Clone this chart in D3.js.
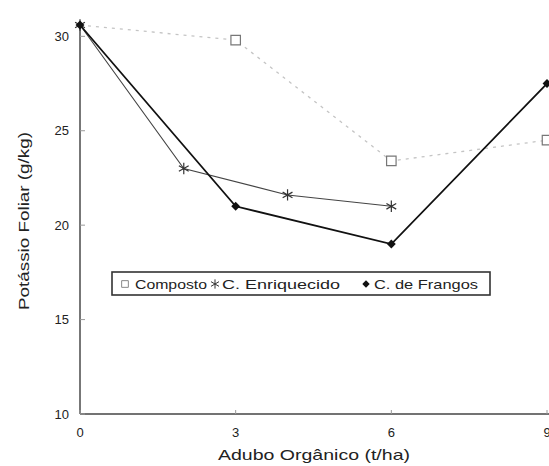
<html>
<script src="https://d3js.org/d3.v7.min.js"></script>
<style>
  body { margin: 0; background: #fff; }
  text { font-family: "Liberation Sans", Arial, sans-serif; fill: #222; }
</style>
<body>
<svg width="549" height="466" id="chart"></svg>
<script>
// data
var xTicks = [0, 3, 6, 9];
var yTicks = [10, 15, 20, 25, 30];
var compostoX = [0, 3, 6, 9];
var compostoY = [30.6, 29.8, 23.4, 24.5];
var enriquecidoX = [0, 2, 4, 6];
var enriquecidoY = [30.6, 23.0, 21.6, 21.0];
var frangosX = [0, 3, 6, 9];
var frangosY = [30.6, 21.0, 19.0, 27.5];
var seriesNames = ["Composto", "C. Enriquecido", "C. de Frangos"];

var svg = d3.select("#chart");
var x = d3.scaleLinear().domain([0, 9]).range([80, 547]);
var y = d3.scaleLinear().domain([10, 30.6]).range([414, 25]);

// axes
svg.append("line").attr("x1", x(0)).attr("x2", 549)
   .attr("y1", y(10)).attr("y2", y(10)).attr("stroke", "#444").attr("stroke-width", 1.6);
svg.append("line").attr("x1", x(0)).attr("x2", x(0))
   .attr("y1", y(10)).attr("y2", y(30.6)).attr("stroke", "#555").attr("stroke-width", 1.6);

svg.selectAll(".ytick").data(yTicks).enter().append("line")
   .attr("x1", x(0)).attr("x2", x(0) + 5)
   .attr("y1", function(d) { return y(d); }).attr("y2", function(d) { return y(d); })
   .attr("stroke", "#999");
svg.selectAll(".ylab").data(yTicks).enter().append("text")
   .attr("x", 69).attr("y", function(d) { return y(d) + 4.5; })
   .attr("text-anchor", "end").attr("font-size", 13).text(function(d) { return d; });

svg.selectAll(".xtick").data(xTicks).enter().append("line")
   .attr("x1", function(d) { return x(d); }).attr("x2", function(d) { return x(d); })
   .attr("y1", y(10)).attr("y2", y(10) - 4).attr("stroke", "#999");
svg.selectAll(".xlab").data(xTicks).enter().append("text")
   .attr("x", function(d) { return x(d); }).attr("y", 437)
   .attr("text-anchor", "middle").attr("font-size", 13).text(function(d) { return d; });

svg.append("text").attr("x", 218).attr("y", 460)
   .attr("font-size", 15).attr("textLength", 192).attr("lengthAdjust", "spacingAndGlyphs")
   .text("Adubo Orgânico (t/ha)");
svg.append("text").attr("transform", "translate(29,310) rotate(-90)")
   .attr("font-size", 15).attr("textLength", 178).attr("lengthAdjust", "spacingAndGlyphs")
   .text("Potássio Foliar (g/kg)");

function pts(xs, ys) { return xs.map(function(v, i) { return [v, ys[i]]; }); }
var line = d3.line().x(function(d) { return x(d[0]); }).y(function(d) { return y(d[1]); });

var composto = pts(compostoX, compostoY);
var enriquecido = pts(enriquecidoX, enriquecidoY);
var frangos = pts(frangosX, frangosY);

svg.append("path").attr("d", line(composto)).attr("fill", "none")
   .attr("stroke", "#c4c4c4").attr("stroke-width", 1.3).attr("stroke-dasharray", "3,5");
svg.append("path").attr("d", line(enriquecido)).attr("fill", "none")
   .attr("stroke", "#444").attr("stroke-width", 1.1);
svg.append("path").attr("d", line(frangos)).attr("fill", "none")
   .attr("stroke", "#111").attr("stroke-width", 1.8);

var diamondType = d3.symbolDiamond2 || d3.symbolDiamond;
var square = d3.symbol().type(d3.symbolSquare).size(90);
var star = d3.symbol().type(d3.symbolAsterisk).size(90);
var diamond = d3.symbol().type(diamondType).size(50);

svg.selectAll(".sq").data(composto.slice(1)).enter().append("path")
   .attr("d", square).attr("transform", function(d) { return "translate(" + x(d[0]) + "," + y(d[1]) + ")"; })
   .attr("fill", "#fff").attr("stroke", "#777").attr("stroke-width", 1.2);
svg.selectAll(".st").data(enriquecido).enter().append("path")
   .attr("d", star).attr("transform", function(d) { return "translate(" + x(d[0]) + "," + y(d[1]) + ")"; })
   .attr("fill", "none").attr("stroke", "#333").attr("stroke-width", 1.2);
svg.selectAll(".dm").data(frangos).enter().append("path")
   .attr("d", diamond).attr("transform", function(d) { return "translate(" + x(d[0]) + "," + y(d[1]) + ")"; })
   .attr("fill", "#111");

// legend
var lg = svg.append("g");
lg.append("rect").attr("x", 112).attr("y", 272).attr("width", 378).attr("height", 23)
  .attr("fill", "#fff").attr("stroke", "#333").attr("stroke-width", 1.6);
var legendItems = [
  { name: seriesNames[0], sym: d3.symbol().type(d3.symbolSquare).size(45), sx: 125, tx: 135, w: 72, fill: "#fff", stroke: "#888" },
  { name: seriesNames[1], sym: d3.symbol().type(d3.symbolAsterisk).size(60), sx: 215, tx: 222, w: 118, fill: "none", stroke: "#333" },
  { name: seriesNames[2], sym: d3.symbol().type(diamondType).size(35), sx: 366, tx: 374, w: 104, fill: "#111", stroke: "none" }
];
legendItems.forEach(function(it) {
  lg.append("path").attr("d", it.sym()).attr("transform", "translate(" + it.sx + ",284)")
    .attr("fill", it.fill).attr("stroke", it.stroke).attr("stroke-width", 1);
  lg.append("text").attr("x", it.tx).attr("y", 289).attr("font-size", 13.5)
    .attr("textLength", it.w).attr("lengthAdjust", "spacingAndGlyphs").text(it.name);
});
</script>
</body>
</html>
